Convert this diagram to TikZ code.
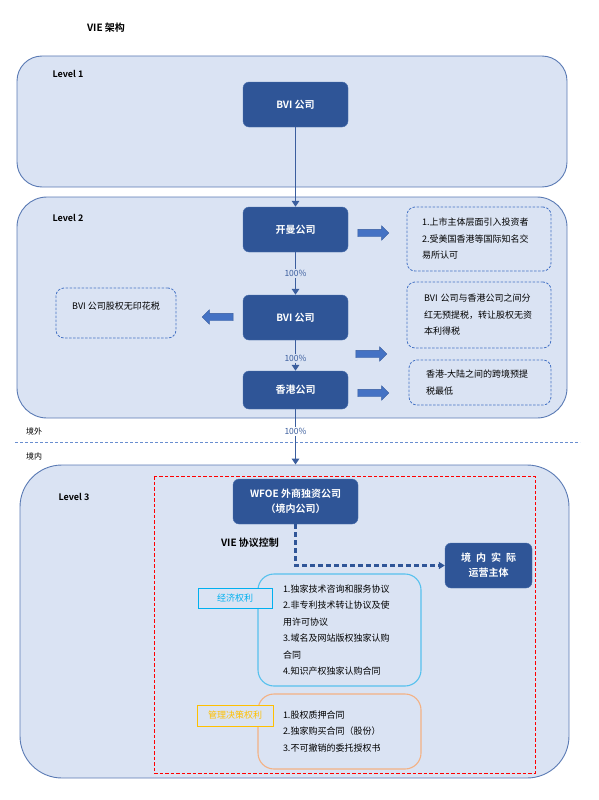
\documentclass[tikz,border=0pt]{standalone}
\usepackage{fontspec}
\setmainfont{Noto Sans CJK SC}[BoldFont={* Bold}]
\usetikzlibrary{arrows.meta, shapes.arrows}
\definecolor{pane}{HTML}{DAE3F3}
\definecolor{paneline}{HTML}{5A7AB4}
\definecolor{corpblue}{HTML}{2F5597}
\definecolor{corpline}{HTML}{4A70AE}
\definecolor{linkblue}{HTML}{3B5E9E}
\definecolor{fatblue}{HTML}{4472C4}
\definecolor{econ}{HTML}{00B0F0}
\definecolor{econline}{HTML}{56C1EE}
\definecolor{mgmt}{HTML}{FFC000}
\definecolor{mgmtline}{HTML}{F4B183}

\begin{document}
\begin{tikzpicture}[x=1pt, y=-1pt,
  panel/.style={draw=paneline, fill=pane, line width=0.9pt, rounded corners=#1},
  corp/.style={draw=corpline, fill=corpblue, rounded corners=6pt, text=white, align=center,
    font=\bfseries\fontsize{10}{15}\selectfont, minimum width=105pt, minimum height=45pt},
  note/.style={draw=fatblue, line width=0.8pt, dash pattern=on 2.5pt off 1.5pt, rounded corners=8pt,
    align=left, font=\fontsize{9}{16.5}\selectfont},
  deal/.style={line width=1.1pt, rounded corners=16pt, align=left, inner ysep=0pt,
    text width=113pt, inner xsep=25pt, minimum width=163pt, font=\fontsize{9}{16.5}\selectfont},
  tag/.style={fill=pane, line width=1pt, font=\fontsize{9}{10}\selectfont, inner sep=0pt},
  lvl/.style={font=\bfseries\fontsize{9}{10}\selectfont},
  small/.style={font=\fontsize{8}{10}\selectfont},
  pct/.style={fill=pane, inner sep=1pt, font=\fontsize{8.5}{10}\selectfont},
  link/.style={linkblue, line width=1.8pt, -{Triangle[length=6pt, width=7.5pt]}},
  fat/.style={single arrow, draw=fatblue!80!black, fill=fatblue, minimum height=31pt,
    inner sep=3.5pt, single arrow head extend=3.5pt, line width=0.4pt}]
\useasboundingbox (0,0) rectangle (598,800);

% panels
\node[panel=25pt, minimum width=550pt, minimum height=131pt] (lv1) at (292,121.5) {};
\node[panel=30pt, minimum width=550pt, minimum height=221pt] (lv2) at (292,307.5) {};
\node[panel=42pt, minimum width=549pt, minimum height=313pt] (lv3) at (294.5,621.5) {};
\node[lvl] (lv1t) at (68,74) {Level 1};
\node[lvl] (lv2t) at (68,218) {Level 2};
\node[lvl] (lv3t) at (74,497) {Level 3};
\node[font=\bfseries\fontsize{10}{12}\selectfont] (title) at (106,28) {VIE 架构};

% border
\draw[fatblue!80, dash pattern=on 3pt off 2pt, line width=0.8pt] (15,442) -- (580,442);
\node[small] (out) at (34,431) {境外};
\node[small] (in) at (34,456) {境内};
\draw[red, dash pattern=on 3.5pt off 2pt, line width=0.8pt] (154,476) rectangle (535,773);

% companies
\node[corp] (bvi) at (295.5,104.5) {BVI 公司};
\node[corp] (cayman) at (295.5,229.5) {开曼公司};
\node[corp] (bvib) at (295.5,317.5) {BVI 公司};
\node[corp, minimum height=38pt] (hk) at (295.5,390) {香港公司};
\node[corp, minimum width=125pt] (wfoe) at (295.5,501.5) {WFOE 外商独资公司\\（境内公司）};
\node[corp, minimum width=87pt] (opco) at (488.5,565.5) {境\hspace{5pt}内\hspace{5pt}实\hspace{5pt}际\\运营主体};

% notes
\node[note, minimum width=144pt, minimum height=64pt, text width=114pt, inner xsep=15pt] (ipo) at (479,239)
  {1.上市主体层面引入投资者\\2.受美国香港等国际知名交\\易所认可};
\node[note, minimum width=144pt, minimum height=66pt, text width=110pt, inner xsep=17pt] (divi) at (479,315)
  {BVI 公司与香港公司之间分\\红无预提税，转让股权无资\\本利得税};
\node[note, minimum width=142pt, minimum height=45pt, text width=108pt, inner xsep=17pt] (wht) at (480,382.5)
  {香港-大陆之间的跨境预提\\税最低};
\node[note, minimum width=120pt, minimum height=50pt, align=center, text depth=14pt] (stamp) at (116,313)
  {BVI 公司股权无印花税};

\node[fat] (fa) at (371.5,233) {};
\node[fat] (fb) at (369.5,354) {};
\node[fat] (fc) at (371.5,393) {};
\node[fat, shape border rotate=180] (fd) at (219.5,317) {};

% VIE deals
\node[deal, draw=econline, minimum height=112pt] (econbox) at (339.5,630)
  {1.独家技术咨询和服务协议\\2.非专利技术转让协议及使\\用许可协议\\3.域名及网站版权独家认购\\合同\\4.知识产权独家认购合同};
\node[deal, draw=mgmtline, minimum height=75pt] (mgmtbox) at (339.5,731.5)
  {1.股权质押合同\\2.独家购买合同（股份）\\3.不可撤销的委托授权书};
\node[tag, draw=econ, text=econ, minimum width=74pt, minimum height=20pt] (econt) at (235,598) {经济权利};
\node[tag, draw=mgmt, text=mgmt, minimum width=76pt, minimum height=21pt] (mgmtt) at (235,715.5) {管理决策权利};
\node[font=\bfseries\fontsize{10}{12}\selectfont] (vie) at (250,543) {VIE 协议控制};

% links
\coordinate (lv3top) at (hk.south |- lv3.north);
\draw[link] (bvi.south) -- (cayman.north);
\draw[link] (cayman.south) -- node[pct] {100\%} (bvib.north);
\draw[link] (bvib.south) -- node[pct, pos=0.6] {100\%} (hk.north);
\draw[link] (hk.south) -- node[pct, fill=white, pos=0.4] {100\%} (lv3top);
\draw[corpblue, line width=2.2pt, dash pattern=on 5pt off 3pt, -{Triangle[length=6pt, width=7pt]}]
  (wfoe.south) |- (opco.west);
\end{tikzpicture}
\end{document}
